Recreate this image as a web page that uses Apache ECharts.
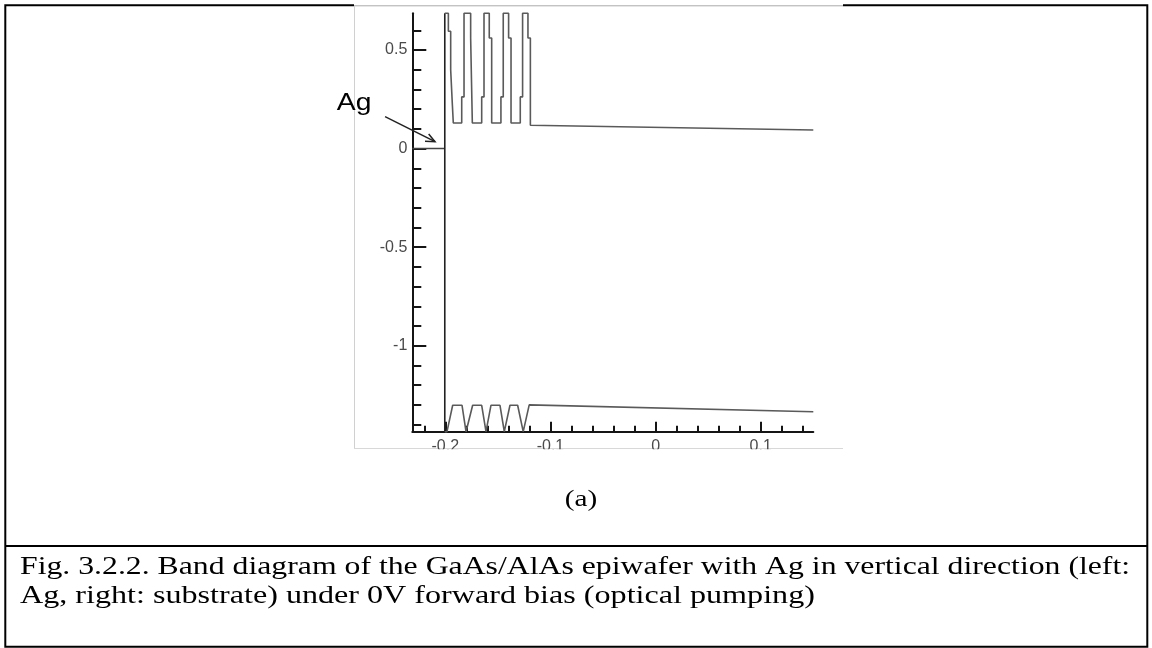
<!DOCTYPE html>
<html><head><meta charset="utf-8">
<script src="https://cdn.jsdelivr.net/npm/echarts@6/dist/echarts.min.js"></script>
<style>html,body{margin:0;padding:0;background:#fff;}#c{width:1152px;height:648px;}</style>
</head><body><div id="c"></div>
<script>
// ---- axis ranges and tick values ----
const xRange = [-0.2314, 0.15];
const yRange = [-1.436, 0.686];
const xMajorTicks = [-0.2, -0.1, 0, 0.1];
const xMinorTicks = [-0.22, -0.18, -0.16, -0.14, -0.12, -0.08, -0.06, -0.04, -0.02, 0.02, 0.04, 0.06, 0.08, 0.12, 0.14];
const yMajorTicks = [-1, -0.5, 0, 0.5];
const yMinorTicks = [-1.4, -1.3, -1.2, -1.1, -0.9, -0.8, -0.7, -0.6, -0.4, -0.3, -0.2, -0.1, 0.1, 0.2, 0.3, 0.4, 0.6];

// ---- Ag (metal) level ----
const agX = [-0.2314, -0.2005];
const agY = [0, 0];
// ---- Ag / semiconductor interface wall ----
const wallX = [-0.2005, -0.2005];
const wallY = [-1.436, 0.686];
// ---- conduction band ----
const cbX = [-0.2005, -0.1971, -0.1971, -0.1949, -0.1949, -0.1933, -0.1933, -0.1924, -0.1924,
  -0.1844, -0.1844, -0.1822, -0.1822, -0.1759, -0.1759, -0.1743, -0.1743,
  -0.1654, -0.1654, -0.1632, -0.1632, -0.1582, -0.1582, -0.1559, -0.1559,
  -0.1471, -0.1471, -0.1449, -0.1449, -0.1398, -0.1398, -0.1375, -0.1375,
  -0.1287, -0.1287, -0.1265, -0.1265, -0.1214, -0.1214, -0.1191, -0.1191,
  0.15];
const cbY = [0.686, 0.686, 0.595, 0.595, 0.400, 0.400, 0.223, 0.223, 0.130,
  0.130, 0.262, 0.262, 0.686, 0.686, 0.561, 0.561, 0.130,
  0.130, 0.262, 0.262, 0.686, 0.686, 0.561, 0.561, 0.130,
  0.130, 0.262, 0.262, 0.686, 0.686, 0.561, 0.561, 0.130,
  0.130, 0.262, 0.262, 0.686, 0.686, 0.561, 0.561, 0.118,
  0.094];
// ---- valence band ----
const vbX = [-0.2005, -0.1984, -0.1930, -0.1841, -0.1803, -0.1787, -0.1740, -0.1654, -0.1613, -0.1597,
  -0.1566, -0.1480, -0.1439, -0.1423, -0.1385, -0.1312, -0.1259, -0.1240, -0.1202, 0.15];
const vbY = [-1.436, -1.436, -1.302, -1.302, -1.436, -1.436, -1.302, -1.302, -1.436, -1.436,
  -1.302, -1.302, -1.436, -1.436, -1.302, -1.302, -1.436, -1.436, -1.300, -1.335];

// ---- annotation (data coordinates) ----
const arrowStart = [-0.2573, 0.162];
const arrowTip = [-0.2098, 0.035];
const agLabelAt = [-0.3032, 0.229];
const agLabel = 'Ag';
const subLabel = '(a)';
const captionLines = [
  'Fig. 3.2.2. Band diagram of the GaAs/AlAs epiwafer with Ag in vertical direction (left:',
  'Ag, right: substrate) under 0V forward bias (optical pumping)'
];

const zip = (xs, ys) => xs.map((x, i) => [x, ys[i]]);

const chart = echarts.init(document.getElementById('c'), null, {renderer: 'canvas'});
const axisColor = '#151515';
const labelFont = {fontFamily: 'Liberation Sans, Arial, sans-serif', fontSize: 16, color: '#4a4a4a'};

function xAxisDef(ticks, len, withLabels, withLine) {
  return {
    type: 'value', min: xRange[0], max: xRange[1], position: 'bottom', z: 10,
    axisLine: {show: withLine, onZero: false, lineStyle: {color: axisColor, width: 2}},
    axisTick: {show: true, inside: true, length: len, customValues: ticks, lineStyle: {color: axisColor, width: 2}},
    axisLabel: Object.assign({show: withLabels, customValues: ticks, margin: 6.5}, labelFont),
    splitLine: {show: false}, minorTick: {show: false}
  };
}
function yAxisDef(ticks, len, withLabels, withLine) {
  return {
    type: 'value', min: yRange[0], max: yRange[1], position: 'left', z: 10,
    axisLine: {show: withLine, onZero: false, lineStyle: {color: axisColor, width: 2}},
    axisTick: {show: true, inside: true, length: len, customValues: ticks, lineStyle: {color: axisColor, width: 2}},
    axisLabel: Object.assign({show: withLabels, customValues: ticks, margin: 5}, labelFont),
    splitLine: {show: false}, minorTick: {show: false}
  };
}
const lineSeries = (name, data, color, width) => ({
  name, type: 'line', data, xAxisIndex: 0, yAxisIndex: 0, symbol: 'none', clip: false, z: 10,
  lineStyle: {color, width}, itemStyle: {color}, animation: false, silent: true
});

chart.setOption({
  animation: false,
  backgroundColor: '#fff',
  grid: {left: 412.3, right: 338.7, top: 13.3, bottom: 216.3, containLabel: false, outerBoundsMode: 'none'},
  xAxis: [xAxisDef(xMajorTicks, 10, true, true), xAxisDef(xMinorTicks, 6, false, false)],
  yAxis: [yAxisDef(yMajorTicks, 14, true, true), yAxisDef(yMinorTicks, 9, false, false)],
  series: [
    lineSeries('Ag', zip(agX, agY), '#444', 1.5),
    lineSeries('Interface', zip(wallX, wallY), '#222', 1.6),
    lineSeries('Conduction band', zip(cbX, cbY), '#5a5a5a', 1.6),
    lineSeries('Valence band', zip(vbX, vbY), '#5a5a5a', 1.6)
  ]
});

const p0 = chart.convertToPixel({gridIndex: 0}, arrowStart);
const p1 = chart.convertToPixel({gridIndex: 0}, arrowTip);
const pa = chart.convertToPixel({gridIndex: 0}, agLabelAt);
const ang = Math.atan2(p1[1] - p0[1], p1[0] - p0[0]);
const hl = 10, hs = 0.42;
const headA = [p1[0] - hl * Math.cos(ang - hs), p1[1] - hl * Math.sin(ang - hs)];
const headB = [p1[0] - hl * Math.cos(ang + hs), p1[1] - hl * Math.sin(ang + hs)];

chart.setOption({
  graphic: [
    // outer document frame
    {type: 'rect', z: 0, shape: {x: 5.3, y: 5.3, width: 1142, height: 641.5}, style: {fill: '#fff', stroke: '#000', lineWidth: 2}},
    {type: 'line', z: 0, shape: {x1: 5.3, y1: 546, x2: 1147.3, y2: 546}, style: {stroke: '#000', lineWidth: 2}},
    // embedded picture area
    {type: 'rect', z: 1, shape: {x: 354, y: 3, width: 489, height: 445.5}, style: {fill: '#fff'}},
    {type: 'line', z: 2, shape: {x1: 354, y1: 5.8, x2: 843, y2: 5.8}, style: {stroke: '#aaa', lineWidth: 1}},
    {type: 'line', z: 2, shape: {x1: 354.5, y1: 5.8, x2: 354.5, y2: 448.5}, style: {stroke: '#d0d0d0', lineWidth: 1}},
    {type: 'line', z: 2, shape: {x1: 354, y1: 448.5, x2: 843, y2: 448.5}, style: {stroke: '#d8d8d8', lineWidth: 1}},
    // picture edge cuts the x tick labels
    {type: 'rect', z: 100, shape: {x: 355, y: 449.2, width: 488, height: 30}, style: {fill: '#fff'}},
    // annotation
    {type: 'line', z: 100, shape: {x1: p0[0], y1: p0[1], x2: p1[0], y2: p1[1]}, style: {stroke: '#222', lineWidth: 1.5}},
    {type: 'polyline', z: 100, shape: {points: [headA, p1, headB]}, style: {stroke: '#222', lineWidth: 1.5, fill: null}},
    {type: 'text', z: 100, x: pa[0], y: pa[1], scaleX: 1.23, style: {text: agLabel, font: '23px "Liberation Sans", Arial, sans-serif', fill: '#000', textAlign: 'left', textVerticalAlign: 'middle'}},
    // sub-figure label and caption
    {type: 'text', z: 100, x: 581, y: 500, scaleX: 1.22, style: {text: subLabel, font: '24px "Liberation Serif", "Times New Roman", serif', fill: '#000', textAlign: 'center', textVerticalAlign: 'middle'}},
    {type: 'text', z: 100, x: 20, y: 567, scaleX: 1.27, style: {text: captionLines[0], font: '25px "Liberation Serif", "Times New Roman", serif', fill: '#000', textAlign: 'left', textVerticalAlign: 'middle'}},
    {type: 'text', z: 100, x: 20, y: 596, scaleX: 1.285, style: {text: captionLines[1], font: '25px "Liberation Serif", "Times New Roman", serif', fill: '#000', textAlign: 'left', textVerticalAlign: 'middle'}}
  ]
});
</script>
</body></html>
